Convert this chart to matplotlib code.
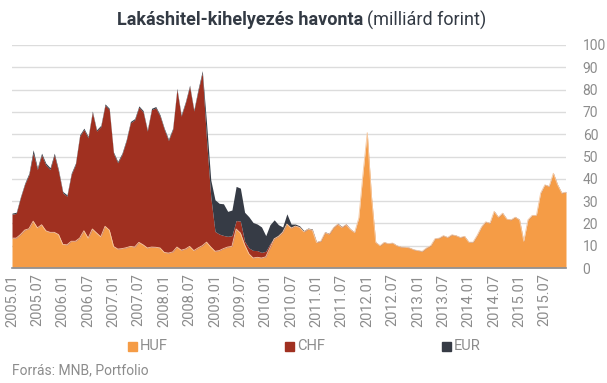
import numpy as np
import matplotlib
matplotlib.use('Agg')
import matplotlib.pyplot as plt

# havi adatok 2005.01 - 2015.12 (milliárd forint)
huf = [13.4, 13.4, 15, 17, 17.6, 21, 18, 19.4, 16.7, 16, 16, 15,
       10.6, 10.4, 12, 12, 13.4, 16.7, 13.4, 17.5, 15.7, 14, 18.7, 17,
       9.7, 8.5, 8.7, 9.1, 9.7, 9.4, 11.5, 10.4, 9, 9.4, 9.3, 9,
       7, 6.7, 7.2, 9.4, 8, 8.5, 9.7, 7.8, 9, 10, 11.6, 9.4,
       7.5, 7.8, 8.7, 9.4, 9.7, 17.5, 15.7, 10.4, 6.4, 4.5, 4.8, 4.5,
       5, 9, 13.1, 14.2, 16, 19.7, 17.9, 18.8, 18.2, 16.2, 17.4, 17,
       11.4, 12, 15.8, 15.2, 18, 19.6, 18.2, 19.4, 17.3, 15.9, 22.4, 42.5,
       60.7, 32, 11.5, 10, 11.5, 10.9, 11.2, 10, 9.4, 9.3, 9, 8.2,
       7.8, 7.5, 9, 10, 13.1, 13.4, 14.5, 13.7, 14.9, 14.5, 13.7, 14.2,
       11.6, 11.6, 14.7, 18.4, 20.7, 20.1, 25.4, 22.8, 24.6, 21.9, 21.6, 22.8,
       21.6, 12, 21.6, 23.6, 23.6, 33.6, 37.3, 36.6, 42.5, 37.3, 33.6, 34]
chf = [10.7, 11.1, 16.5, 20.5, 24.2, 30.5, 26.2, 31.3, 29.5, 28.2, 34.7, 28.2,
       23.1, 21.8, 29.9, 34.4, 45.7, 45.4, 45, 52.3, 45.7, 49.4, 54.3, 54,
       41.7, 38.7, 42.2, 47.8, 55.4, 57, 60.6, 59.6, 52.4, 61.6, 62.5, 59.1,
       55.1, 50.5, 54.9, 70.6, 60.1, 65.5, 71.7, 62.6, 70.5, 77.5, 45.9, 22.6,
       8.9, 7.4, 5.9, 4.8, 4.8, 3.8, 5.3, 1.6, 2.6, 3.4, 3, 2.5,
       2.5, 1.9, 0.3, 0.3, 0.4, 0.2, 0.3, 0.3, 0.2, 0.2, 0.2, 0.2,
       0.2, 0.2, 0.2, 0.2, 0.2, 0.3, 0.2, 0.3, 0.2, 0.1, 0.1, 0.1,
       0.1, 0.1, 0.1, 0.1, 0.1, 0.1, 0.1, 0.1, 0.1, 0.1, 0.1, 0.1,
       0.1, 0.1, 0.1, 0.1, 0.1, 0.1, 0.1, 0.1, 0.1, 0.1, 0.1, 0.1,
       0.1, 0.1, 0.1, 0.1, 0.1, 0.1, 0.1, 0.1, 0.1, 0.1, 0.1, 0.1,
       0.1, 0.1, 0.1, 0.1, 0.1, 0.1, 0.1, 0.1, 0.1, 0.1, 0.1, 0.1]
eur = [0.5, 0.5, 0.5, 0.5, 0.7, 1.5, 0.8, 0.8, 0.8, 0.8, 0.8, 0.8,
       0.6, 0.6, 0.6, 0.6, 0.6, 0.6, 0.6, 0.6, 0.6, 0.6, 0.6, 0.6,
       0.6, 0.6, 0.6, 0.6, 0.6, 0.6, 0.6, 0.6, 0.6, 0.6, 0.6, 0.6,
       0.6, 0.6, 0.6, 0.6, 0.6, 0.6, 0.6, 0.6, 0.8, 1, 7.5, 7.5,
       14.2, 13.8, 14.2, 11.2, 11.5, 15.3, 14.8, 13, 14, 12.5, 11.9, 11.4,
       7, 8.5, 8.2, 4.9, 2, 4.4, 1.5, 0.6, 0.5, 0.4, 0.3, 0.3,
       0.2, 0.2, 0.2, 0.2, 0.2, 0.2, 0.2, 0.1, 0.1, 0.1, 0.1, 0.1,
       0.1, 0.1, 0.1, 0.1, 0.1, 0.1, 0.1, 0.1, 0.1, 0.1, 0.1, 0.1,
       0.1, 0.1, 0.1, 0.1, 0.1, 0.1, 0.1, 0.1, 0.1, 0.1, 0.1, 0.1,
       0.1, 0.1, 0.1, 0.1, 0.1, 0.1, 0.1, 0.1, 0.1, 0.1, 0.1, 0.1,
       0.1, 0.1, 0.1, 0.1, 0.1, 0.1, 0.1, 0.1, 0.1, 0.1, 0.1, 0.1]

honapok = ['%d.%02d' % (2005 + k // 12, k % 12 + 1) for k in range(len(huf))]
tick_labels = [h for h in honapok if h.endswith('.01') or h.endswith('.07')]
sorozatok = ['HUF', 'CHF', 'EUR']

c_huf = '#f59c46'
c_chf = '#a03020'
c_eur = '#363b45'
grey = '#8c8c8c'

plt.rcParams['font.family'] = ['Roboto', 'DejaVu Sans']

fig = plt.figure(figsize=(6.07, 3.83), dpi=100)
ax = fig.add_axes([12 / 607, 115 / 383, 554 / 607, 223 / 383])

x = np.arange(len(huf))
huf = np.array(huf)
chf = np.array(chf)
eur = np.array(eur)

ax.fill_between(x, 0, huf, color=c_huf, lw=0, zorder=3)
ax.fill_between(x, huf, huf + chf, color=c_chf, lw=0, zorder=3)
ax.fill_between(x, huf + chf, huf + chf + eur, color=c_eur, lw=0, zorder=3)
ax.plot(x, huf, color='#f7c9a0', lw=0.6, zorder=4)

ax.set_xlim(0, len(huf) - 1)
ax.set_ylim(0, 100)
ax.set_yticks(range(0, 101, 10))
ax.yaxis.tick_right()
ax.tick_params(axis='y', length=0, pad=12, labelsize=10, labelcolor=grey)
ax.grid(axis='y', color='#dcdcdc', lw=1, zorder=0)

tick_pos = [honapok.index(t) for t in tick_labels]
ax.set_xticks(tick_pos)
ax.set_xticklabels(tick_labels, rotation=90, fontsize=10.5, color=grey)
ax.tick_params(axis='x', length=0, pad=4)

for s in ['top', 'left', 'right']:
    ax.spines[s].set_visible(False)
ax.spines['bottom'].set_color('#8a9099')
ax.spines['bottom'].set_linewidth(1.2)
ax.spines['bottom'].set_zorder(5)

# cím: félkövér rész + normál rész egymás után
t1 = fig.text(117 / 607, 1 - 20 / 383, 'Lakáshitel-kihelyezés havonta', ha='left', va='center',
              fontsize=13, fontweight='bold', color='#333a44')
fig.canvas.draw()
bb = t1.get_window_extent()
fig.text(bb.x1 / fig.bbox.width + 4 / 607, 1 - 20 / 383, '(milliárd forint)', ha='left', va='center',
         fontsize=13, color='#333a44')

for lab, col, xp in zip(sorozatok, [c_huf, c_chf, c_eur], [128, 285, 442]):
    fig.patches.append(plt.Rectangle((xp / 607, 1 - 351 / 383), 9 / 607, 9 / 383,
                                     transform=fig.transFigure, color=col))
    fig.text((xp + 12) / 607, 1 - 346 / 383, lab, ha='left', va='center', fontsize=10.5, color=grey)

fig.text(12 / 607, 1 - 370 / 383, 'Forrás: MNB, Portfolio', ha='left', va='center',
         fontsize=10, color=grey)

fig.savefig('out.png', dpi=100)
